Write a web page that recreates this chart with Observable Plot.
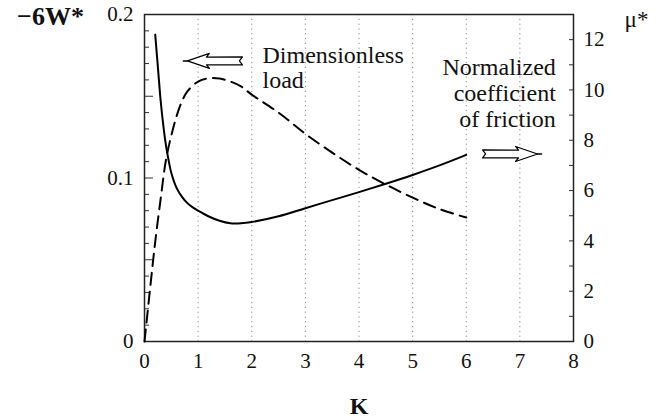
<!DOCTYPE html>
<html><head><meta charset="utf-8">
<script src="https://cdn.jsdelivr.net/npm/d3@7"></script>
<script src="https://cdn.jsdelivr.net/npm/@observablehq/plot@0.6"></script>
<style>body{margin:0;background:#fff}</style>
</head><body><div id="chart"></div>
<script>
// ---- data ----
const kLoad = [0, 0.1, 0.2, 0.3, 0.4, 0.5, 0.6, 0.7, 0.8, 1.0, 1.2, 1.4, 1.6, 1.8, 2.0, 2.5, 3.0, 3.5, 4.0, 4.5, 5.0, 5.5, 6.0];
const loadW = [0, 0.031, 0.061, 0.087, 0.111, 0.126, 0.138, 0.147, 0.153, 0.159, 0.161, 0.1608, 0.159, 0.156, 0.151, 0.140, 0.127, 0.1155, 0.105, 0.096, 0.088, 0.081, 0.0758];
const kMu = [0.2, 0.25, 0.3, 0.35, 0.4, 0.45, 0.5, 0.6, 0.7, 0.8, 0.9, 1.0, 1.2, 1.4, 1.6, 1.8, 2.0, 2.5, 3.0, 3.5, 4.0, 4.5, 5.0, 5.5, 6.0];
const muVals = [12.2, 10.9, 9.6, 8.6, 7.8, 7.2, 6.7, 6.1, 5.75, 5.5, 5.33, 5.2, 4.97, 4.8, 4.7, 4.7, 4.75, 4.98, 5.3, 5.62, 5.94, 6.27, 6.62, 7.0, 7.42];
const leftTickLabels = [0, 0.1, 0.2];
const rightTickLabels = [0, 2, 4, 6, 8, 10, 12];
const xTickLabels = [0, 1, 2, 3, 4, 5, 6, 7, 8];
const gridK = [1, 2, 3, 4, 5, 6, 7];
const noteLoad = ["Dimensionless", "load"];
const noteMu = ["Normalized", "coefficient", "of friction"];
const noteLoadPos = {k: 2.2, w: [0.1706, 0.1553]};
const noteMuPos = {k: 7.67, w: [0.1627, 0.1468, 0.1309]};
const arrowTips = [{k: 0.80, w: 0.1716, dir: -1}, {k: 7.33, w: 0.1147, dir: 1}];
const muMax = 13, wMax = 0.2, kMax = 8;

// ---- layout ----
const W = 656, H = 418, mL = 144, mR = 83, mT = 14, mB = 77;
const plotW = W - mL - mR, plotH = H - mT - mB;
const kPerPx = kMax / plotW, wPerPx = wMax / plotH;
const muToW = m => m * wMax / muMax;

const loadData = kLoad.map((k, i) => ({k, w: loadW[i]}));
const muData = kMu.map((k, i) => ({k, w: muToW(muVals[i])}));

// hollow block arrows (shape in pixel offsets, converted to data units)
const shape = [[0,0],[22,-7.5],[19,-3.8],[55,-4],[52,0],[55,4],[19,3.8],[22,7.5],[0,0]];
const arrowPts = [];
arrowTips.forEach((a, j) => {
  shape.forEach(([dx, dy]) => arrowPts.push({id: j, k: a.k - a.dir * dx * kPerPx, w: a.w - dy * wPerPx}));
});
const arrowLines = arrowTips.map((a, j) => [{id: j, k: a.k, w: a.w}, {id: j, k: a.k + a.dir * 4 * kPerPx, w: a.w}]).flat();

const minorLeft = d3.range(0, 21).map(i => i * 0.01);
const rightMinor = d3.range(0, 14).map(muToW);

const font = "Liberation Serif";

const chart = Plot.plot({
  width: W, height: H,
  marginLeft: mL, marginRight: mR, marginTop: mT, marginBottom: mB,
  style: {fontFamily: font, fontSize: "21px", background: "#fff", color: "#111"},
  x: {domain: [0, kMax], label: null},
  y: {domain: [0, wMax], label: null},
  marks: [
    Plot.ruleX(gridK, {stroke: "#8a8a8a", strokeDasharray: "1.2,3.6", strokeWidth: 1}),
    // left inward ticks
    Plot.ruleY(minorLeft.filter((d, i) => i % 5 !== 0), {stroke: "#333", insetRight: plotW - 5}),
    Plot.ruleY(minorLeft.filter((d, i) => i % 5 === 0), {stroke: "#333", insetRight: plotW - 9}),
    // right inward ticks
    Plot.ruleY(rightMinor, {stroke: "#333", insetLeft: plotW - 4}),
    Plot.axisY(leftTickLabels, {anchor: "left", tickSize: 0, tickPadding: 11, label: null,
      fontFamily: font, tickFormat: d => d === 0 ? "0" : d.toFixed(1)}),
    Plot.axisY(rightTickLabels.map(muToW), {anchor: "right", tickSize: 0, tickPadding: 10, label: null,
      fontFamily: font, tickFormat: d => String(Math.round(d * muMax / wMax))}),
    Plot.axisX(xTickLabels, {tickSize: 0, tickPadding: 12, label: null, fontFamily: font}),
    Plot.frame({stroke: "#222", strokeWidth: 1.5}),
    Plot.line(loadData, {x: "k", y: "w", stroke: "#000", strokeWidth: 2, strokeDasharray: "12,7", curve: "catmull-rom"}),
    Plot.line(muData, {x: "k", y: "w", stroke: "#000", strokeWidth: 2, curve: "catmull-rom"}),
    Plot.line(arrowPts, {x: "k", y: "w", z: "id", stroke: "#000", strokeWidth: 1.2, fill: "white", curve: "linear"}),
    Plot.line(arrowLines, {x: "k", y: "w", z: "id", stroke: "#000", strokeWidth: 1.5}),
    Plot.text(noteLoad, {x: () => noteLoadPos.k, y: (d, i) => noteLoadPos.w[i], text: d => d,
      textAnchor: "start", lineAnchor: "bottom", fontSize: 24, fontFamily: font}),
    Plot.text(noteMu, {x: () => noteMuPos.k, y: (d, i) => noteMuPos.w[i], text: d => d,
      textAnchor: "end", lineAnchor: "bottom", fontSize: 24, fontFamily: font}),
    Plot.text(["−6W*"], {frameAnchor: "top-left", dx: -94, dy: 10, lineAnchor: "bottom",
      textAnchor: "middle", fontWeight: "bold", fontSize: 26, fontFamily: font}),
    Plot.text(["μ*"], {frameAnchor: "top-right", dx: 63, dy: 12, lineAnchor: "bottom",
      textAnchor: "middle", fontSize: 23, fontFamily: font}),
    Plot.text(["K"], {frameAnchor: "bottom", dy: 72, lineAnchor: "bottom",
      textAnchor: "middle", fontWeight: "bold", fontSize: 24, fontFamily: font})
  ]
});
document.getElementById("chart").appendChild(chart);
</script>
</body></html>
